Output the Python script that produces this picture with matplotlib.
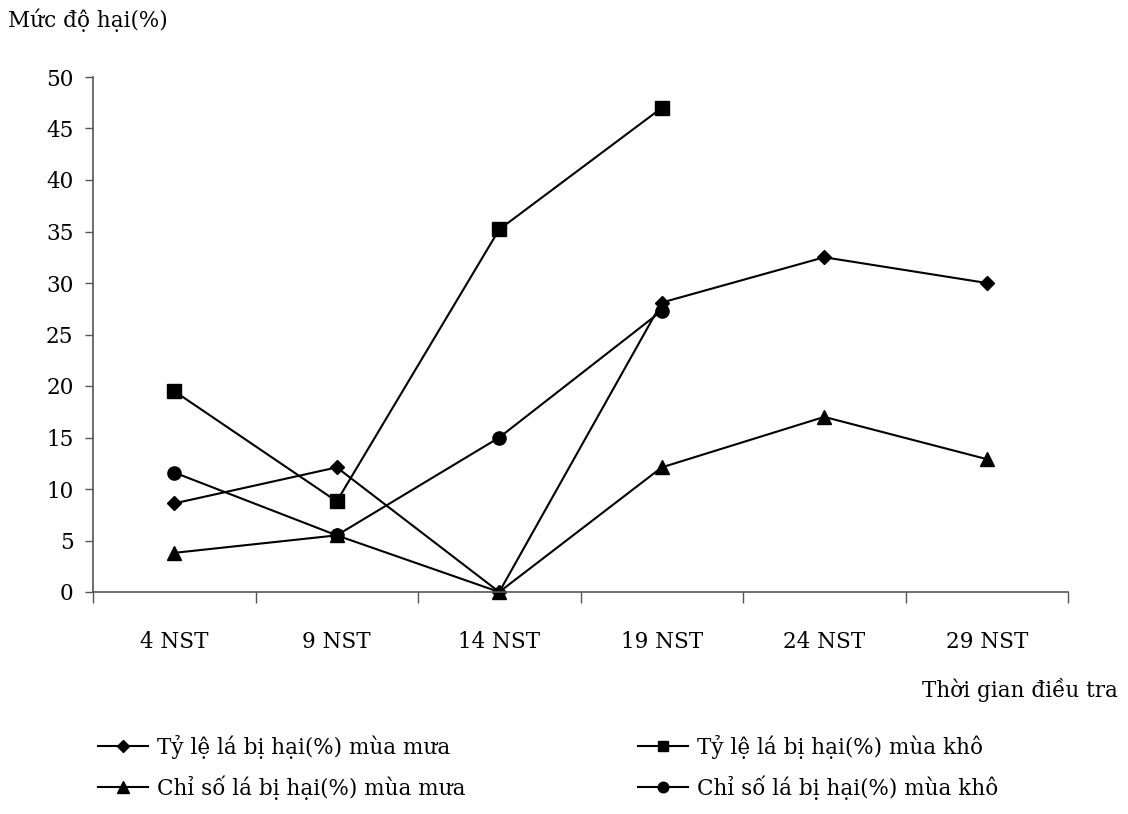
import numpy as np
import matplotlib
matplotlib.use("Agg")
from matplotlib import pyplot as plt

plt.rcParams['font.family'] = ['DejaVu Serif']

categories = ["4 NST", "9 NST", "14 NST", "19 NST", "24 NST", "29 NST"]
ty_le_mua = [8.6, 12.1, 0.0, 28.1, 32.5, 30.0]
ty_le_kho = [19.5, 8.8, 35.2, 47.0, np.nan, np.nan]
chi_so_mua = [3.8, 5.5, 0.0, 12.1, 17.0, 12.9]
chi_so_kho = [11.6, 5.5, 15.0, 27.3, np.nan, np.nan]

labels = ["Tỷ lệ lá bị hại(%) mùa mưa", "Tỷ lệ lá bị hại(%) mùa khô",
          "Chỉ số lá bị hại(%) mùa mưa", "Chỉ số lá bị hại(%) mùa khô"]

fs = 15.5

fig = plt.figure(figsize=(11.28, 8.14), dpi=100)
ax = fig.add_axes([93/1128, 1-592/814, 975/1128, 515/814])

x = np.arange(len(categories))
lw = 1.5
l1, = ax.plot(x, ty_le_mua, color="black", lw=lw, marker="D", ms=7.5, label=labels[0])
l2, = ax.plot(x, ty_le_kho, color="black", lw=lw, marker="s", ms=9.5, label=labels[1])
l3, = ax.plot(x, chi_so_mua, color="black", lw=lw, marker="^", ms=10, label=labels[2])
l4, = ax.plot(x, chi_so_kho, color="black", lw=lw, marker="o", ms=9.5, label=labels[3])
for l in (l1, l2, l3, l4):
    l.set_clip_on(False)

ax.set_xlim(-0.5, len(categories)-0.5)
ax.set_ylim(0, 50)
ax.set_yticks(np.arange(0, 51, 5))
ax.set_xticks(np.arange(-0.5, len(categories), 1.0))
ax.set_xticklabels([])
ax.set_xticks(x, minor=True)
ax.set_xticklabels(categories, minor=True)
ax.tick_params(axis='x', which='minor', length=0, pad=28, labelsize=fs)
ax.tick_params(axis='x', which='major', length=8, width=1, color="#555555", direction="out")
ax.tick_params(axis='y', length=6, width=1, color="#555555", labelsize=fs, pad=8)

for side in ("top", "right"):
    ax.spines[side].set_visible(False)
for side in ("left", "bottom"):
    ax.spines[side].set_color("#555555")
    ax.spines[side].set_linewidth(1.2)

fig.text(8/1128, 1-20/814, "Mức độ hại(%)", fontsize=fs, ha="left", va="center")
fig.text(1118/1128, 1-690/814, "Thời gian điều tra", fontsize=fs, ha="right", va="center")

# hai cột chú thích, đặt riêng để khớp vị trí
leg_kw = dict(ncol=1, frameon=False, loc="upper left", fontsize=fs,
              handlelength=2.3, handletextpad=0.45, labelspacing=0.75, markerscale=0.8,
              borderpad=0, borderaxespad=0)
fig.legend([l1, l3], [labels[0], labels[2]], bbox_to_anchor=(98/1128, 1-735/814), **leg_kw)
fig.legend([l2, l4], [labels[1], labels[3]], bbox_to_anchor=(638/1128, 1-735/814), **leg_kw)

fig.savefig("out.png", dpi=100)
